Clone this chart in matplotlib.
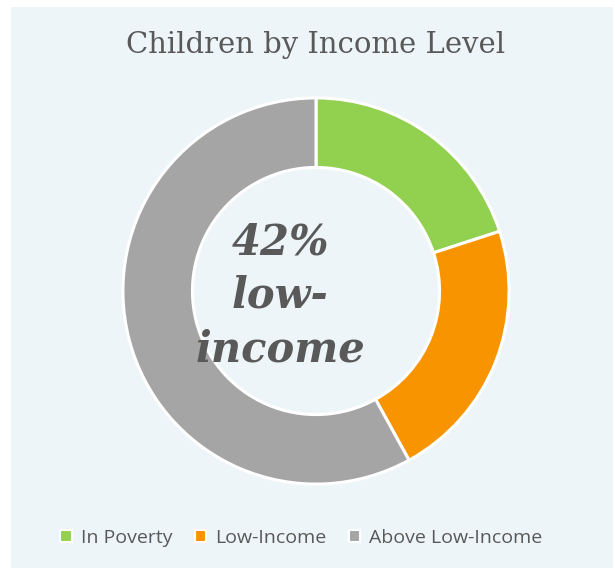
import matplotlib
matplotlib.use('Agg')
import matplotlib.pyplot as plt
from matplotlib.patches import Rectangle, Patch

# Share of children by household income level (percent)
categories = ['In Poverty', 'Low-Income', 'Above Low-Income']
shares = [20, 22, 58]
colors = ['#92D050', '#F79400', '#A5A5A5']
center_label = ['42%', 'low-', 'income']

TEXT_GRAY = '#595959'
PANEL_BG = '#EDF5F9'

W, H = 615, 571
fig = plt.figure(figsize=(W / 100, H / 100), dpi=100)
fig.patch.set_facecolor('white')

# light panel behind the chart
fig.patches.append(Rectangle((11 / W, 3 / H), 602 / W, 561 / H,
                             transform=fig.transFigure, facecolor=PANEL_BG,
                             edgecolor='none', zorder=-1))

cx, cy, r = 316, 291, 195
ax = fig.add_axes([(cx - r) / W, (H - cy - r) / H, 2 * r / W, 2 * r / H])
ax.set_facecolor('none')
ax.pie(shares, colors=colors, startangle=90, counterclock=False,
       wedgeprops=dict(width=0.36, edgecolor='white', linewidth=2.2))
ax.set_xlim(-1.01, 1.01)
ax.set_ylim(-1.01, 1.01)
ax.set_aspect('equal')
ax.axis('off')

fig.text(316 / W, 1 - 45 / H, 'Children by Income Level', ha='center', va='center',
         fontsize=21, color=TEXT_GRAY, family='DejaVu Serif')

# big label in the hole of the donut
for txt, y in zip(center_label, [243, 296, 350]):
    fig.text(280 / W, 1 - y / H, txt, ha='center', va='center', fontsize=30,
             fontweight='bold', fontstyle='italic', color=TEXT_GRAY,
             family='DejaVu Serif', zorder=5)

handles = [Patch(facecolor=c, edgecolor='white', linewidth=1.5) for c in colors]
fig.legend(handles, categories, loc='center', bbox_to_anchor=(0.49, 1 - 538 / H),
           ncol=3, frameon=False, labelcolor=TEXT_GRAY,
           handlelength=0.6, handleheight=0.6, handletextpad=0.45,
           columnspacing=1.15, prop={'family': 'Open Sans', 'size': 14})

fig.savefig('out.png', dpi=100, facecolor=fig.get_facecolor())
